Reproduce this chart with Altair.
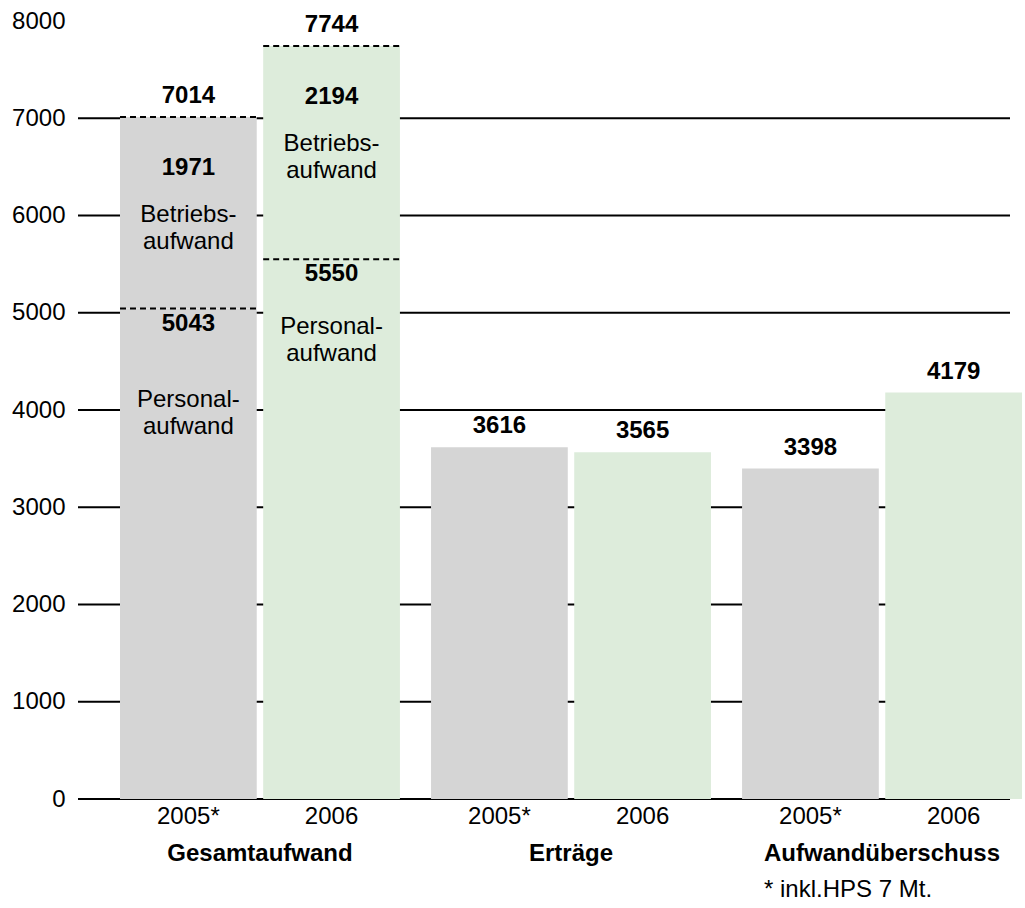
import altair as alt
import pandas as pd

# ---- data ----
groups = ["Gesamtaufwand", "Erträge", "Aufwandüberschuss"]
years = ["2005*", "2006"]
personalaufwand = [5043, 5550]
betriebsaufwand = [1971, 2194]
gesamtaufwand = [7014, 7744]
ertraege = [3616, 3565]
aufwandueberschuss = [3398, 4179]
y_ticks = [0, 1000, 2000, 3000, 4000, 5000, 6000, 7000, 8000]
footnote = "* inkl.HPS 7 Mt."

# ---- styling ----
FONT = "Liberation Sans"
FS = 24
GRAY = "#d5d5d5"
GREEN = "#ddecdb"
W, H = 947, 778
DASH = [6, 4] * 13 + [6, 400]

# ---- tables built from the arrays ----
bar_rows, total_rows, bound_rows = [], [], []
for i, yr in enumerate(years):
    bar_rows.append(dict(group=groups[0], year=yr, lo=0, hi=personalaufwand[i]))
    bar_rows.append(dict(group=groups[0], year=yr, lo=personalaufwand[i],
                         hi=personalaufwand[i] + betriebsaufwand[i]))
    bar_rows.append(dict(group=groups[1], year=yr, lo=0, hi=ertraege[i]))
    bar_rows.append(dict(group=groups[2], year=yr, lo=0, hi=aufwandueberschuss[i]))
    total_rows.append(dict(group=groups[0], year=yr, value=gesamtaufwand[i]))
    total_rows.append(dict(group=groups[1], year=yr, value=ertraege[i]))
    total_rows.append(dict(group=groups[2], year=yr, value=aufwandueberschuss[i]))
    bound_rows.append(dict(group=groups[0], year=yr, value=personalaufwand[i]))
    bound_rows.append(dict(group=groups[0], year=yr, value=gesamtaufwand[i]))

bars_df = pd.DataFrame(bar_rows)
totals_df = pd.DataFrame(total_rows)
totals_df["label"] = totals_df["value"].astype(str)
bounds_df = pd.DataFrame(bound_rows)

seg_df = pd.DataFrame({
    "group": [groups[0]] * 2,
    "year": years,
    "total": gesamtaufwand,
    "personal": personalaufwand,
    "betrieb_label": [str(v) for v in betriebsaufwand],
    "personal_label": [str(v) for v in personalaufwand],
    "betrieb_word": ["Betriebs-\naufwand"] * 2,
    "personal_word": ["Personal-\naufwand"] * 2,
})
year_df = pd.DataFrame([dict(group=g, year=y) for g in groups for y in years])
group_df = pd.DataFrame({"group": groups})
grid_df = pd.DataFrame({"v": y_ticks[:-1]})
foot_df = pd.DataFrame({"t": [footnote]})

# ---- shared encodings ----
xenc = alt.X("group:N", sort=groups,
             scale=alt.Scale(range=[42, 944], paddingInner=0.1, paddingOuter=0),
             axis=None)
xoff = alt.XOffset("year:N", sort=years,
                   scale=alt.Scale(paddingInner=0.045, paddingOuter=0))
yscale = alt.Scale(domain=[0, 8000], nice=False, zero=True)
YAX = alt.Axis(values=y_ticks, format="d", grid=False, domain=False, ticks=False,
               labelFont=FONT, labelFontSize=FS, labelColor="black",
               labelPadding=13, labelFlush=False, labelOverlap=False, title=None)


def Y(field):
    return alt.Y(field, scale=yscale, axis=YAX, title=None)


def Y0():
    return alt.YDatum(0, scale=yscale, axis=YAX, title=None)


def txt(**kw):
    base = dict(font=FONT, fontSize=FS, color="black")
    base.update(kw)
    return base


grid = alt.Chart(grid_df).mark_rule(color="black", strokeWidth=2).encode(
    y=Y("v:Q"),
    x=alt.value(0),
    x2=alt.value(932),
)

bars = alt.Chart(bars_df).mark_bar(strokeWidth=0).encode(
    x=xenc, xOffset=xoff,
    y=Y("hi:Q"),
    y2="lo:Q",
    color=alt.Color("year:N", scale=alt.Scale(domain=years, range=[GRAY, GREEN]),
                    legend=None),
)

dashes = alt.Chart(bounds_df).mark_bar(filled=False, color="black", strokeWidth=2,
                                       strokeDash=DASH).encode(
    x=xenc, xOffset=xoff,
    y=Y("value:Q"),
    y2="value:Q",
)

totals = alt.Chart(totals_df).mark_text(**txt(fontWeight="bold", baseline="middle", dy=-21)).encode(
    x=xenc, xOffset=xoff, y=Y("value:Q"), text="label:N")

betr_num = alt.Chart(seg_df).mark_text(**txt(fontWeight="bold", baseline="middle", dy=51)).encode(
    x=xenc, xOffset=xoff, y=Y("total:Q"), text="betrieb_label:N")
pers_num = alt.Chart(seg_df).mark_text(**txt(fontWeight="bold", baseline="middle", dy=15)).encode(
    x=xenc, xOffset=xoff, y=Y("personal:Q"), text="personal_label:N")
betr_word = alt.Chart(seg_df).mark_text(**txt(baseline="top", dy=86, lineBreak="\n", lineHeight=27)).encode(
    x=xenc, xOffset=xoff, y=Y("total:Q"), text="betrieb_word:N")
pers_word_05 = alt.Chart(seg_df).transform_filter(alt.datum.year == years[0]).mark_text(
    **txt(baseline="top", dy=79, lineBreak="\n", lineHeight=27)).encode(
    x=xenc, xOffset=xoff, y=Y("personal:Q"), text="personal_word:N")
pers_word_06 = alt.Chart(seg_df).transform_filter(alt.datum.year == years[1]).mark_text(
    **txt(baseline="top", dy=56, lineBreak="\n", lineHeight=27)).encode(
    x=xenc, xOffset=xoff, y=Y("personal:Q"), text="personal_word:N")

year_lbl = alt.Chart(year_df).mark_text(**txt(baseline="middle", dy=18)).encode(
    x=xenc, xOffset=xoff, y=Y0(), text="year:N")
group_lbl = alt.Chart(group_df).mark_text(**txt(fontWeight="bold", baseline="middle", dy=55)).encode(
    x=xenc, y=Y0(), text="group:N")
foot = alt.Chart(foot_df).mark_text(**txt(align="left", baseline="middle", dy=91)).encode(
    x=alt.value(686), y=Y0(), text="t:N")

chart = alt.layer(
    grid, bars, dashes, totals, betr_num, pers_num, betr_word, pers_word_05, pers_word_06,
    year_lbl, group_lbl, foot,
).resolve_scale(y="shared").properties(
    width=W, height=H,
    autosize=alt.AutoSizeParams(type="none"),
    padding={"left": 78, "top": 21, "right": 0, "bottom": 109},
    background="white",
).configure_view(stroke=None)

chart.save("out.html", embed_options={"renderer": "svg", "actions": False})
